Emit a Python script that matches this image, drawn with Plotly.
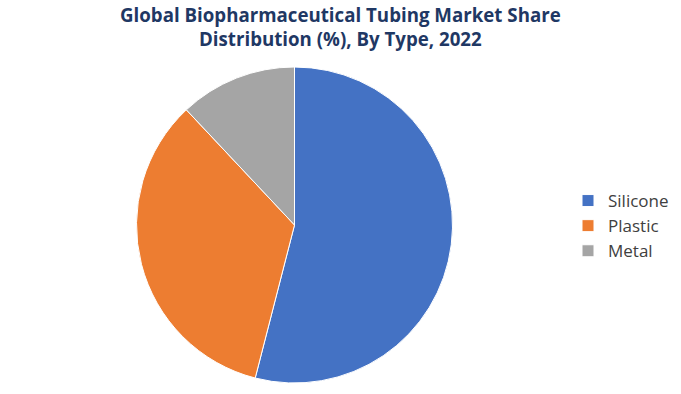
import plotly.graph_objects as go

labels = ["Silicone", "Plastic", "Metal"]
values = [54, 34, 12]
colors = ["#4472C4", "#ED7D31", "#A5A5A5"]
title_text = "Global Biopharmaceutical Tubing Market Share<br>Distribution (%), By Type, 2022"

W, H = 681, 394
cx, cy, r = 294.5, 225, 158

fig = go.Figure(go.Pie(
    labels=labels,
    values=values,
    sort=False,
    direction="clockwise",
    rotation=0,
    marker=dict(colors=colors, line=dict(color="white", width=1)),
    textinfo="none",
    hoverinfo="label+percent",
    domain=dict(x=[(cx - r) / W, (cx + r) / W], y=[1 - (cy + r) / H, 1 - (cy - r) / H]),
))

fig.add_annotation(
    text=title_text,
    x=340 / W, xref="paper", xanchor="center",
    y=1, yref="paper", yanchor="top",
    showarrow=False,
    font=dict(family="Open Sans", size=18.7, color="#1F3864", weight="bold"),
    align="center",
)

fig.update_layout(
    width=W, height=H,
    margin=dict(l=0, r=0, t=0, b=0),
    paper_bgcolor="white",
    plot_bgcolor="white",
    legend=dict(
        x=568 / W, xanchor="left", y=1 - 226 / H, yanchor="middle",
        font=dict(family="Open Sans", size=17, color="#404040"),
        bgcolor="rgba(0,0,0,0)",
    ),
    showlegend=True,
)

fig.write_html("out.html", config={"displayModeBar": False},
               post_script="document.body.style.margin='0';")
